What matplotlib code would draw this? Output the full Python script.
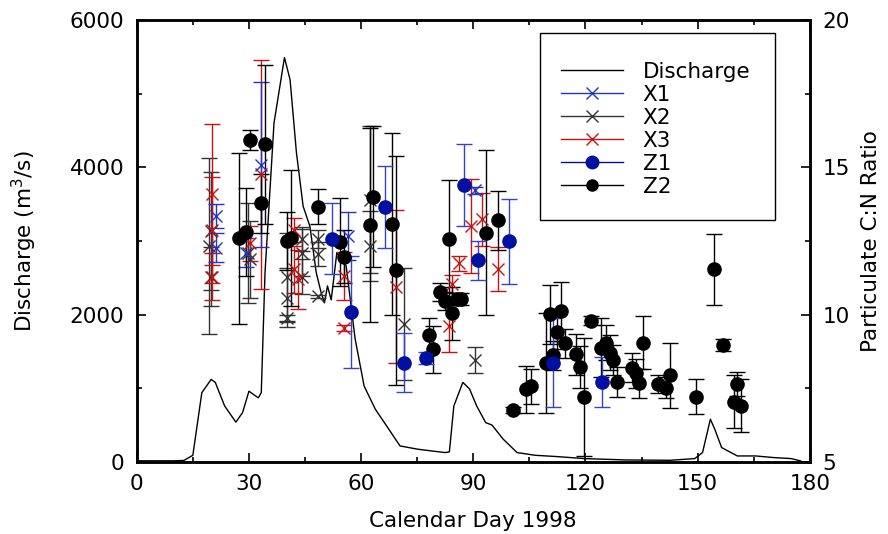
import numpy as np
import matplotlib
matplotlib.use("Agg")
import matplotlib.pyplot as plt
from matplotlib.lines import Line2D
from matplotlib.patches import Rectangle

# discharge hydrograph (day, m3/s)
q_day = [0, 5, 10, 12.6, 15, 17.4, 19.9, 21, 23.5, 26.5, 28.3, 30, 32.5, 33.3, 34.3,
         36.7, 39.5, 41, 42.7, 44.5, 46.3, 48, 49.3, 50.2, 51, 52, 53.5, 56, 58.4,
         60.8, 63.8, 66.8, 70.4, 75.2, 82.4, 83.6, 84.8, 87.2, 89, 90.9, 93.3, 95,
         98, 101.7, 106.5, 112.5, 119.7, 130.6, 142.6, 149.2, 151.3, 153.4, 154.6,
         156.4, 160.6, 165.5, 170.3, 175, 177.5]
q_val = [15, 15, 15, 20, 90, 940, 1120, 1080, 760, 540, 670, 960, 870, 940, 2570,
         4600, 5490, 5190, 4200, 3470, 3200, 2570, 2300, 2160, 2390, 2200, 2840, 2660, 1670,
         1030, 715, 490, 217, 172, 127, 136, 760, 1080, 990, 760, 534, 500,
         308, 127, 90, 72, 45, 27, 22, 45, 127, 580, 440,
         195, 81, 81, 59, 45, 14]

# C:N ratios: day, value, error
x1_day = [21.3, 21.3, 29.2, 33.2, 56.5, 90.4]
x1_val = [13.35, 12.27, 12.1, 15.08, 12.67, 14.22]
x1_err = [0.4, 0.5, 0.5, 2.8, 0.8, 0.12]

x2_day = [19.3, 19.9, 19.9, 29.7, 30.2, 40.2, 40.2, 40.2, 44.3, 44.3, 44.3, 48.4, 48.4,
          48.4, 62.5, 62.5, 71.4, 90.4]
x2_val = [12.33, 12.84, 11.29, 12.1, 11.88, 11.26, 10.58, 9.9, 12.56, 12.1, 11.29, 12.56,
          12.05, 10.63, 13.9, 12.33, 9.67, 8.46]
x2_err = [3.0, 2.0, 1.0, 1.7, 1.3, 1.5, 1.0, 0.1, 0.4, 0.8, 0.6, 0.3,
          0.4, 0.05, 2.5, 1.2, 1.9, 0.45]

x3_day = [20.1, 20.1, 20.1, 30.2, 33.2, 42.0, 42.0, 43.0, 55.4, 55.4, 69.4, 83.4, 84.4,
          86.3, 89.4, 92.4, 96.5]
x3_val = [14.08, 12.87, 11.29, 12.42, 14.76, 12.87, 11.54, 11.2, 11.31, 9.56, 10.95, 9.62,
          11.03, 11.74, 13.0, 13.24, 11.56]
x3_err = [2.4, 1.8, 0.8, 0.6, 3.9, 0.4, 0.8, 1.0, 0.8, 0.1, 2.6, 0.9,
          0.3, 0.25, 1.6, 0.9, 0.75]

z1_day = [52.2, 57.3, 66.3, 71.4, 77.3, 87.4, 91.3, 99.5, 111.4, 124.3]
z1_val = [12.58, 10.1, 13.65, 8.37, 8.54, 14.4, 11.84, 12.49, 8.37, 7.71]
z1_err = [1.2, 1.9, 1.4, 1.0, 0.2, 1.4, 0.65, 1.45, 1.5, 0.85]

z2_day = [27.3, 29.2, 30.2, 33.2, 34.2, 40.2, 41.2, 48.4, 54.3, 55.4, 62.5, 63.3, 68.3,
          69.4, 78.2, 79.3, 81.2, 82.4, 83.4, 84.4, 85.6, 86.6, 93.4, 96.5, 100.5,
          104.1, 105.3, 109.5, 110.5, 111.4, 112.5, 113.4, 114.4, 117.4, 118.4, 119.5,
          121.5, 124.2, 125.4, 126.5, 127.4, 128.4, 132.5, 133.4, 134.4, 135.5, 139.5,
          141.5, 142.6, 149.6, 154.5, 156.7, 159.6, 160.6, 161.6]
z2_val = [12.59, 12.8, 15.93, 13.78, 15.79, 12.5, 12.6, 13.67, 12.47, 11.97, 13.04, 14.0,
          13.07, 11.5, 9.3, 8.82, 10.77, 10.46, 12.56, 10.05, 10.52, 10.52, 12.78, 13.2,
          6.76, 7.47, 7.56, 8.35, 10.01, 8.62, 9.42, 10.12, 9.02, 8.65, 8.22, 7.2, 9.79,
          8.88, 9.05, 8.71, 8.46, 7.71, 8.2, 8.01, 7.67, 9.05, 7.64, 7.52, 7.94, 7.22,
          11.54, 8.96, 7.05, 7.64, 6.9]
z2_err = [2.9, 1.5, 0.33, 1.0, 2.7, 1.0, 2.3, 0.6, 1.5, 0.9, 3.3, 2.4, 3.1, 3.9, 0.6,
          0.8, 0.3, 0.3, 2.0, 0.9, 0.2, 0.2, 2.8, 1.0, 0.1, 0.8, 0.6, 1.7, 1.0, 0.5,
          0.6, 1.0, 0.5, 0.7, 0.7, 2.0, 0.15, 1.0, 0.6, 0.6, 0.5, 0.5, 0.5, 0.5, 0.5,
          0.9, 0.3, 0.35, 1.1, 0.6, 1.2, 0.2, 0.9, 0.4, 0.9]

plt.rcParams["font.family"] = "DejaVu Sans"
plt.rcParams["font.size"] = 15.5

fig = plt.figure(figsize=(8.88, 5.34), dpi=100)
ax = fig.add_axes([0.154, 0.135, 0.758, 0.8275])
ax2 = ax.twinx()

ax.plot(q_day, q_val, color="black", lw=1.0)
ax.set_xlim(0, 180)
ax.set_ylim(0, 6000)
ax.set_xticks([0, 30, 60, 90, 120, 150, 180])
ax.set_xticks(np.arange(0, 181, 15), minor=True)
ax.set_yticks([0, 2000, 4000, 6000])
ax.set_yticks(np.arange(0, 6001, 1000), minor=True)
ax.set_xlabel("Calendar Day 1998", labelpad=12)
ax.set_ylabel("Discharge (m$^3$/s)", labelpad=22)

blue_x = "#2233cc"
red_x = "#cc1111"
gray_x = "#333333"
blue_z = "#0010a0"

eb = dict(elinewidth=1.0, capsize=6, capthick=1.0)
ax2.errorbar(x2_day, x2_val, yerr=x2_err, fmt="x", color=gray_x, ms=9, mew=1.0, **eb)
ax2.errorbar(x3_day, x3_val, yerr=x3_err, fmt="x", color=red_x, ms=9, mew=1.0, **eb)
ax2.errorbar(x1_day, x1_val, yerr=x1_err, fmt="x", color=blue_x, ms=9, mew=1.0, **eb)
ax2.errorbar(z2_day, z2_val, yerr=z2_err, fmt="o", color="black", ms=9.5, **eb)
ax2.errorbar(z1_day, z1_val, yerr=z1_err, fmt="o", color=blue_z, ecolor="#3344cc",
             ms=9.5, **eb)
ax2.set_ylim(5, 20)
ax2.set_yticks([5, 10, 15, 20])
ax2.set_yticks(np.arange(5, 20.1, 2.5), minor=True)
ax2.set_ylabel("Particulate C:N Ratio", labelpad=8)

for a in (ax, ax2):
    a.tick_params(which="both", direction="in", top=True, width=1.2, pad=9)
    a.tick_params(which="major", length=6.5)
    a.tick_params(which="minor", length=3.5)
    for s in a.spines.values():
        s.set_linewidth(1.8)
ax.tick_params(right=False, which="both")
ax2.tick_params(left=False, which="both")

# legend box
ax2.add_patch(Rectangle((0.599, 0.5475), 0.349, 0.423, transform=ax2.transAxes,
                        facecolor="white", edgecolor="black", lw=1.0, zorder=4.5))
handles = [
    Line2D([], [], color="black", lw=1),
    Line2D([], [], color=blue_x, marker="x", ms=8, lw=1),
    Line2D([], [], color=gray_x, marker="x", ms=8, lw=1),
    Line2D([], [], color=red_x, marker="x", ms=8, lw=1),
    Line2D([], [], color=blue_z, marker="o", ms=9, lw=1),
    Line2D([], [], color="black", marker="o", ms=8, lw=1),
]
labels = ["Discharge", "X1", "X2", "X3", "Z1", "Z2"]
ax2.legend(handles, labels, loc="upper left", bbox_to_anchor=(0.630, 0.906),
           frameon=False, handlelength=2.88, labelspacing=0.14, borderpad=0,
           handletextpad=0.93, borderaxespad=0)

fig.savefig("out.png", dpi=100)
